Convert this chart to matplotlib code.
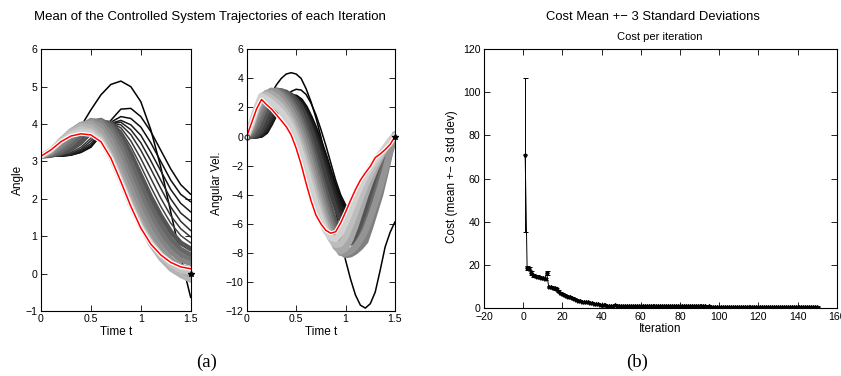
import matplotlib
matplotlib.use("Agg")
import matplotlib.pyplot as plt

plt.rcParams['font.family'] = ['Liberation Sans', 'DejaVu Sans']

# ---------------- data ----------------
t_angle = [0.0, 0.1, 0.2, 0.3, 0.4, 0.5, 0.6, 0.7, 0.8, 0.9, 1.0, 1.1, 1.2, 1.3, 1.4, 1.5]

angle_gray_levels = [0.0, 0.03, 0.06, 0.10, 0.14, 0.18, 0.22, 0.27,
                     0.33, 0.40, 0.46, 0.52, 0.58, 0.64, 0.70, 0.76, 0.82]
angle_curves = [
    [3.14, 3.15, 3.24, 3.55, 3.94, 4.38, 4.78, 5.06, 5.15, 5.00, 4.60, 3.85, 2.85, 1.65, 0.45, -0.64],
    [3.14, 3.14, 3.14, 3.17, 3.24, 3.38, 3.70, 4.10, 4.40, 4.42, 4.20, 3.80, 3.30, 2.80, 2.38, 2.12],
    [3.14, 3.14, 3.14, 3.17, 3.25, 3.40, 3.72, 4.05, 4.20, 4.15, 3.92, 3.50, 3.00, 2.50, 2.12, 1.92],
    [3.14, 3.14, 3.15, 3.18, 3.27, 3.43, 3.75, 4.02, 4.10, 3.98, 3.70, 3.25, 2.75, 2.25, 1.88, 1.65],
    [3.14, 3.14, 3.15, 3.19, 3.30, 3.48, 3.80, 4.02, 4.05, 3.85, 3.50, 3.02, 2.50, 2.00, 1.62, 1.40],
    [3.14, 3.14, 3.16, 3.21, 3.33, 3.55, 3.85, 4.03, 3.98, 3.72, 3.30, 2.80, 2.28, 1.78, 1.40, 1.15],
    [3.14, 3.14, 3.17, 3.24, 3.38, 3.62, 3.90, 4.04, 3.90, 3.55, 3.08, 2.55, 2.02, 1.55, 1.20, 0.98],
    [3.14, 3.15, 3.19, 3.28, 3.45, 3.72, 3.98, 4.05, 3.82, 3.40, 2.88, 2.32, 1.80, 1.35, 1.02, 0.82],
    [3.14, 3.16, 3.23, 3.35, 3.55, 3.85, 4.06, 4.02, 3.70, 3.20, 2.62, 2.05, 1.55, 1.12, 0.82, 0.66],
    [3.14, 3.18, 3.28, 3.45, 3.70, 3.98, 4.10, 3.95, 3.55, 2.98, 2.38, 1.80, 1.32, 0.92, 0.65, 0.50],
    [3.14, 3.20, 3.35, 3.56, 3.83, 4.06, 4.10, 3.85, 3.38, 2.75, 2.12, 1.57, 1.10, 0.74, 0.50, 0.38],
    [3.14, 3.22, 3.42, 3.66, 3.92, 4.10, 4.05, 3.72, 3.18, 2.52, 1.88, 1.35, 0.90, 0.58, 0.36, 0.27],
    [3.14, 3.25, 3.50, 3.76, 3.98, 4.08, 3.95, 3.55, 2.95, 2.28, 1.65, 1.12, 0.70, 0.40, 0.20, 0.12],
    [3.14, 3.28, 3.56, 3.82, 4.00, 4.02, 3.82, 3.35, 2.72, 2.05, 1.42, 0.90, 0.50, 0.20, 0.00, -0.10],
    [3.14, 3.30, 3.58, 3.82, 3.96, 3.92, 3.68, 3.18, 2.55, 1.88, 1.28, 0.78, 0.40, 0.12, -0.05, -0.18],
    [3.14, 3.30, 3.56, 3.78, 3.88, 3.82, 3.60, 3.12, 2.50, 1.85, 1.28, 0.82, 0.47, 0.22, 0.08, 0.02],
    [3.14, 3.31, 3.54, 3.72, 3.80, 3.76, 3.56, 3.10, 2.48, 1.82, 1.25, 0.83, 0.52, 0.30, 0.17, 0.12],
]
angle_final = [3.14, 3.31, 3.53, 3.68, 3.74, 3.71, 3.53, 3.09, 2.46, 1.80, 1.22, 0.79, 0.50, 0.30, 0.18, 0.13]

t_vel = [0.0, 0.05, 0.1, 0.15, 0.2, 0.25, 0.3, 0.35, 0.4, 0.45, 0.5, 0.55, 0.6, 0.65, 0.7, 0.75,
         0.8, 0.85, 0.9, 0.95, 1.0, 1.05, 1.1, 1.15, 1.2, 1.25, 1.3, 1.35, 1.4, 1.45, 1.5]
vel_gray_levels = [0.0, 0.02, 0.06, 0.12, 0.18, 0.25, 0.33, 0.42, 0.50, 0.58, 0.66, 0.74, 0.82]
vel_curves = [
    [0, 0.2, 0.7, 1.4, 2.2, 2.95, 3.55, 4.0, 4.3, 4.39, 4.3, 4.0, 3.3, 2.4, 1.3, 0.0,
     -1.6, -3.3, -5.1, -7.0, -8.5, -9.8, -10.9, -11.6, -11.8, -11.5, -10.7, -9.2, -7.6, -6.6, -5.86],
    [0, 0, 0, 0, 0.3, 1.0, 1.7, 2.3, 2.8, 3.1, 3.25, 3.2, 2.9, 2.3, 1.5, 0.5,
     -0.6, -1.8, -3.0, -4.0, -4.7, -5.0, -4.9, -4.5, -4.0, -3.4, -2.8, -2.2, -1.5, -0.8, 0.0],
    [0, 0, 0, 0.05, 0.3, 0.9, 1.6, 2.2, 2.6, 2.8, 2.75, 2.5, 2.0, 1.3, 0.5, -0.4,
     -1.4, -2.5, -3.5, -4.4, -5.0, -5.3, -5.3, -5.0, -4.5, -3.9, -3.2, -2.5, -1.7, -0.9, 0.0],
    [0, 0, 0, 0.1, 0.45, 1.05, 1.7, 2.25, 2.6, 2.72, 2.6, 2.3, 1.75, 1.0, 0.15, -0.8,
     -1.85, -2.95, -3.95, -4.8, -5.35, -5.6, -5.5, -5.1, -4.5, -3.8, -3.05, -2.3, -1.5, -0.75, 0.0],
    [0, 0, 0.02, 0.2, 0.65, 1.3, 1.95, 2.45, 2.72, 2.75, 2.55, 2.15, 1.5, 0.7, -0.2, -1.2,
     -2.3, -3.4, -4.45, -5.3, -5.85, -6.0, -5.8, -5.3, -4.6, -3.85, -3.05, -2.25, -1.45, -0.7, 0.0],
    [0, 0, 0.05, 0.35, 0.95, 1.65, 2.3, 2.75, 2.95, 2.9, 2.6, 2.1, 1.4, 0.5, -0.5, -1.6,
     -2.75, -3.9, -4.95, -5.8, -6.3, -6.4, -6.1, -5.5, -4.7, -3.85, -3.0, -2.2, -1.4, -0.65, 0.0],
    [0, 0.05, 0.3, 0.9, 1.7, 2.45, 2.95, 3.1, 3.0, 2.7, 2.2, 1.5, 0.65, -0.35, -1.5, -2.7,
     -3.9, -5.05, -6.05, -6.85, -7.3, -7.3, -6.9, -6.1, -5.15, -4.1, -3.1, -2.15, -1.3, -0.55, 0.05],
    [0, 0.2, 0.7, 1.45, 2.3, 2.9, 3.15, 3.1, 2.85, 2.4, 1.8, 1.05, 0.15, -0.9, -2.05, -3.25,
     -4.45, -5.6, -6.6, -7.4, -7.9, -7.95, -7.6, -7.0, -6.2, -5.2, -4.1, -2.9, -1.8, -0.8, 0.1],
    [0, 0.4, 1.1, 1.9, 2.7, 3.1, 3.15, 2.95, 2.6, 2.1, 1.45, 0.65, -0.3, -1.4, -2.6, -3.8,
     -5.0, -6.1, -7.1, -7.85, -8.15, -8.1, -7.9, -7.6, -7.2, -6.2, -5.1, -4.0, -2.6, -1.1, 0.1],
    [0, 0.6, 1.5, 2.35, 2.95, 3.15, 3.05, 2.75, 2.3, 1.75, 1.05, 0.2, -0.8, -1.95, -3.15, -4.35,
     -5.5, -6.55, -7.45, -8.0, -8.05, -7.9, -7.6, -7.1, -6.5, -5.6, -4.6, -3.5, -2.3, -1.0, 0.15],
    [0, 0.8, 1.8, 2.7, 3.0, 2.95, 2.75, 2.4, 1.95, 1.35, 0.6, -0.3, -1.35, -2.5, -3.7, -4.85,
     -5.95, -6.9, -7.6, -7.9, -7.7, -7.05, -6.15, -5.1, -4.05, -3.1, -2.25, -1.5, -0.85, -0.3, 0.1],
    [0, 0.9, 1.95, 2.8, 2.85, 2.65, 2.4, 2.05, 1.6, 1.0, 0.2, -0.75, -1.85, -3.0, -4.2, -5.3,
     -6.3, -7.05, -7.45, -7.4, -6.9, -6.1, -5.2, -4.25, -3.35, -2.6, -1.95, -1.35, -0.8, -0.3, 0.05],
    [0, 0.95, 2.0, 2.75, 2.6, 2.35, 2.05, 1.7, 1.25, 0.65, -0.2, -1.2, -2.35, -3.55, -4.7, -5.7,
     -6.5, -6.95, -7.05, -6.65, -5.95, -5.1, -4.25, -3.45, -2.75, -2.15, -1.65, -1.2, -0.75, -0.3, 0.05],
]
vel_final = [0.0, 0.95, 1.9, 2.55, 2.2, 1.9, 1.5, 1.1, 0.68, 0.1, -0.8, -1.9, -3.2, -4.4, -5.4, -6.0,
             -6.45, -6.65, -6.55, -5.95, -5.2, -4.4, -3.65, -3.0, -2.5, -2.05, -1.45, -1.2, -0.9, -0.55, 0.0]

iterations = list(range(1, 151))
cost_mean = [
    71.0, 18.8, 18.3, 16.5, 15.4, 15.0, 14.6, 14.3, 14.1, 14.0,
    13.6, 16.5, 10.0, 9.8, 9.5, 9.2, 8.8, 8.1, 7.3, 6.5,
    6.0, 5.6, 5.3, 5.0, 4.7, 4.4, 4.0, 3.6, 3.3, 3.1,
    2.9, 2.8, 2.7, 2.5, 2.3, 2.1, 1.9, 1.8, 1.7, 1.5,
    1.4, 1.3, 1.2, 1.1, 1.1, 1.2, 1.5, 1.2, 1.1, 1.1,
    1.05, 1.04, 1.06, 1.03, 1.02, 1.04, 1.01, 1.0, 1.02, 0.99,
    1.0, 0.98, 0.99, 0.97, 0.98, 0.96, 0.97, 0.95, 0.96, 0.94,
    0.95, 0.93, 0.94, 0.92, 0.93, 0.91, 0.92, 0.9, 0.91, 0.89,
    0.9, 0.88, 0.89, 0.88, 0.87, 0.88, 0.86, 0.87, 0.85, 0.86,
    0.85, 0.84, 0.85, 0.83, 0.84, 0.83, 0.82, 0.83, 0.81, 0.82,
    0.81, 0.8, 0.81, 0.8, 0.79, 0.8, 0.79, 0.78, 0.79, 0.78,
    0.78, 0.77, 0.78, 0.77, 0.76, 0.77, 0.76, 0.76, 0.75, 0.76,
    0.75, 0.75, 0.74, 0.75, 0.74, 0.74, 0.73, 0.74, 0.73, 0.73,
    0.73, 0.72, 0.73, 0.72, 0.72, 0.71, 0.72, 0.71, 0.71, 0.71,
    0.7, 0.71, 0.7, 0.7, 0.7, 0.69, 0.7, 0.69, 0.69, 0.69,
]
cost_err = [
    35.5, 0.9, 0.8, 0.9, 0.7, 0.6, 0.6, 0.5, 0.5, 0.5,
    0.6, 0.9, 0.5, 0.5, 0.5, 0.5, 0.4, 0.4, 0.4, 0.4,
    0.4, 0.4, 0.4, 0.35, 0.35, 0.35, 0.35, 0.3, 0.3, 0.3,
    0.3, 0.3, 0.3, 0.3, 0.3, 0.3, 0.3, 0.3, 0.3, 0.3,
    0.3, 0.3, 0.3, 0.3, 0.3, 0.3, 0.4, 0.3, 0.3, 0.3,
    0.3, 0.3, 0.3, 0.3, 0.3, 0.3, 0.3, 0.3, 0.3, 0.3,
    0.3, 0.3, 0.3, 0.3, 0.3, 0.3, 0.3, 0.3, 0.3, 0.3,
    0.3, 0.3, 0.3, 0.3, 0.3, 0.3, 0.3, 0.25, 0.25, 0.25,
    0.25, 0.25, 0.25, 0.25, 0.25, 0.25, 0.25, 0.25, 0.25, 0.25,
    0.25, 0.25, 0.25, 0.25, 0.25, 0.25, 0.25, 0.25, 0.25, 0.25,
    0.25, 0.25, 0.25, 0.25, 0.25, 0.25, 0.25, 0.25, 0.25, 0.25,
    0.25, 0.25, 0.25, 0.25, 0.25, 0.25, 0.25, 0.25, 0.25, 0.25,
    0.25, 0.25, 0.25, 0.25, 0.25, 0.25, 0.25, 0.25, 0.25, 0.25,
    0.25, 0.25, 0.25, 0.25, 0.25, 0.25, 0.25, 0.25, 0.25, 0.25,
    0.25, 0.25, 0.25, 0.25, 0.25, 0.25, 0.25, 0.25, 0.25, 0.25,
]

angle_yticks = [-1, 0, 1, 2, 3, 4, 5, 6]
vel_yticks = [-12, -10, -8, -6, -4, -2, 0, 2, 4, 6]
time_ticks = [0, 0.5, 1, 1.5]
time_ticklabels = ['0', '0.5', '1', '1.5']
cost_xticks = [-20, 0, 20, 40, 60, 80, 100, 120, 140, 160]
cost_yticks = [0, 20, 40, 60, 80, 100, 120]

# ---------------- figure ----------------
W, H = 841, 376
fig = plt.figure(figsize=(W / 100, H / 100), dpi=100)


def ax_rect(left, right, top, bottom):
    return [left / W, 1 - bottom / H, (right - left) / W, (bottom - top) / H]


def matlab_style(ax, fs=7.6):
    ax.tick_params(direction='in', length=4, width=0.6, top=True, right=True,
                   labelsize=fs, pad=2.5)
    for s in ax.spines.values():
        s.set_linewidth(0.8)


ax1 = fig.add_axes(ax_rect(41, 190.7, 49.3, 311))
ax2 = fig.add_axes(ax_rect(246.7, 395, 49.3, 311))
ax3 = fig.add_axes(ax_rect(484, 836.7, 49, 308.3))

# Angle panel
for g, curve in zip(angle_gray_levels, angle_curves):
    lw = 1.1 if g < 0.3 else 3.6
    ax1.plot(t_angle, curve, color=str(g), lw=lw, solid_capstyle='round',
             solid_joinstyle='round')
ax1.plot(t_angle, angle_final, color='white', lw=2.8)
ax1.plot(t_angle, angle_final, color='red', lw=1.1)
ax1.plot([1.5], [0], marker='*', color='black', ms=4, clip_on=False)
ax1.set_xlim(0, 1.5)
ax1.set_ylim(-1, 6)
ax1.set_xticks(time_ticks)
ax1.set_xticklabels(time_ticklabels)
ax1.set_yticks(angle_yticks)
matlab_style(ax1)
ax1.set_xlabel('Time t', fontsize=8.5, va='center')
ax1.xaxis.set_label_coords(0.5, -0.080)
ax1.set_ylabel('Angle', fontsize=8.5, va='center')
ax1.yaxis.set_label_coords(-0.154, 0.50)

# Angular velocity panel
for g, curve in zip(vel_gray_levels, vel_curves):
    if g < 0.03:
        lw = 1.1
    elif g < 0.3:
        lw = 3.0
    else:
        lw = 4.6
    ax2.plot(t_vel, curve, color=str(g), lw=lw, solid_capstyle='round',
             solid_joinstyle='round')
ax2.plot(t_vel, vel_final, color='white', lw=2.8)
ax2.plot(t_vel, vel_final, color='red', lw=1.1)
ax2.plot([1.5], [0], marker='*', color='black', ms=4, clip_on=False)
ax2.plot([0], [0], marker='o', mfc='none', mec='0.3', ms=3.5, clip_on=False)
ax2.set_xlim(0, 1.5)
ax2.set_ylim(-12, 6)
ax2.set_xticks(time_ticks)
ax2.set_xticklabels(time_ticklabels)
ax2.set_yticks(vel_yticks)
matlab_style(ax2)
ax2.set_xlabel('Time t', fontsize=8.5, va='center')
ax2.xaxis.set_label_coords(0.5, -0.080)
ax2.set_ylabel('Angular Vel.', fontsize=8.5, va='center')
ax2.yaxis.set_label_coords(-0.200, 0.49)

# Cost panel
ax3.errorbar(iterations, cost_mean, yerr=cost_err, fmt='-', color='black', lw=0.7,
             elinewidth=0.7, capsize=1.8, capthick=0.7, marker='*', ms=2.8)
ax3.set_xlim(-20, 160)
ax3.set_ylim(0, 120)
ax3.set_xticks(cost_xticks)
ax3.set_yticks(cost_yticks)
matlab_style(ax3)
ax3.set_xlabel('Iteration', fontsize=8.5, va='center')
ax3.xaxis.set_label_coords(0.5, -0.080)
ax3.set_ylabel('Cost (mean +\u2212 3 std dev)', fontsize=8.5, va='center')
ax3.yaxis.set_label_coords(-0.091, 0.506)

# titles and panel captions
fig.text(210 / W, 1 - 17 / H, 'Mean of the Controlled System Trajectories of each Iteration',
         ha='center', va='center', fontsize=9.5)
fig.text(653 / W, 1 - 17 / H, 'Cost Mean +\u2212 3 Standard Deviations',
         ha='center', va='center', fontsize=9.4)
fig.text(660 / W, 1 - 37.3 / H, 'Cost per iteration', ha='center', va='center', fontsize=8.0)
fig.text(207 / W, 1 - 362 / H, '(a)', ha='center', va='center', fontsize=13.5,
         family=['Liberation Serif', 'DejaVu Serif'])
fig.text(637 / W, 1 - 362 / H, '(b)', ha='center', va='center', fontsize=13.5,
         family=['Liberation Serif', 'DejaVu Serif'])

fig.savefig('out.png', dpi=100)
